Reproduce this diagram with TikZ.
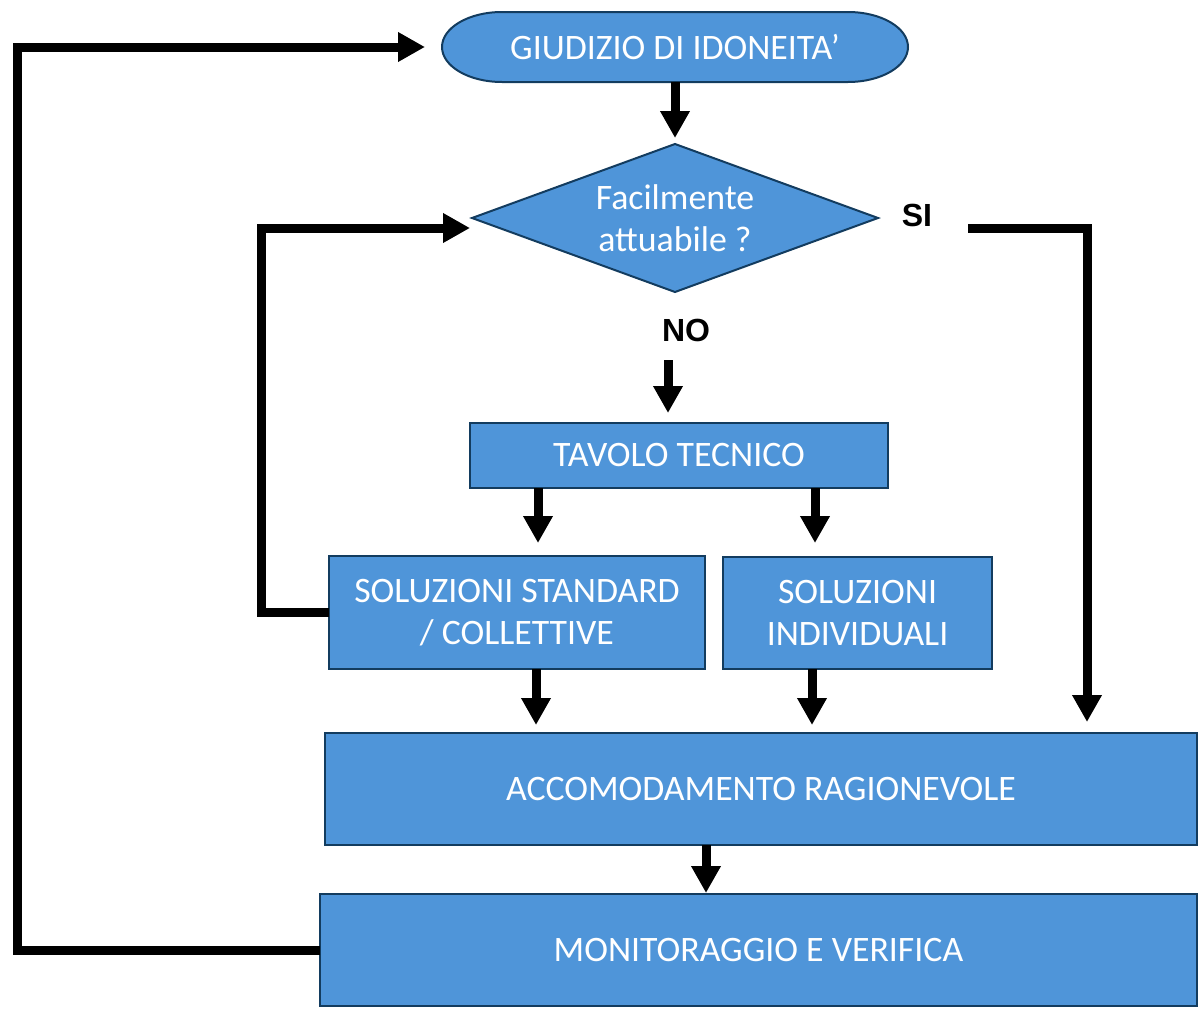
\documentclass[tikz,border=0pt]{standalone}
\usepackage{fontspec}
\setmainfont{Carlito}
\newfontfamily\labelfont{Liberation Sans}
\usetikzlibrary{arrows.meta,shapes.geometric,backgrounds}
\definecolor{boxc}{RGB}{79,149,217}
\definecolor{bordc}{RGB}{19,60,95}
\tikzset{
  box/.style={draw=bordc, fill=boxc, line width=1pt, inner sep=0pt, outer sep=0pt,
    text=white, align=center, font={\fontsize{17.9pt}{21pt}\selectfont}},
  termtext/.style={inner sep=0pt, outer sep=0pt, text=white, align=center,
    font={\fontsize{17.9pt}{21pt}\selectfont}},
  termshape/.style={draw=bordc, fill=boxc, line width=1pt},
  arr/.style={line width=4.5pt, line join=miter, -{Triangle[length=13.5pt,width=14pt]}},
  yn/.style={inner sep=0pt, font={\labelfont\bfseries\fontsize{16pt}{18pt}\selectfont}}
}
\begin{document}
\begin{tikzpicture}[x=0.5pt,y=-0.5pt]
\useasboundingbox (0,0) rectangle (1199,1012);

% nodes
\node[termtext, minimum width=233pt, minimum height=35pt] (g) at (675,47) {GIUDIZIO DI IDONEITA’};
\begin{scope}[on background layer]
\draw[termshape] ([xshift=30pt]g.north west) -- ([xshift=-30pt]g.north east)
  arc[start angle=90, end angle=-90, x radius=30pt, y radius=17.5pt]
  -- ([xshift=30pt]g.south west)
  arc[start angle=270, end angle=90, x radius=30pt, y radius=17.5pt] -- cycle;
\end{scope}

\node[box, diamond, shape aspect=2.74, minimum width=203pt, minimum height=74pt] (d) at (675,218) {Facilmente\\attuabile ?};
\node[yn] (si) at (917,215) {SI};
\node[yn] (no) at (686,330) {NO};

\node[box, minimum width=209pt, minimum height=32.5pt] (tav) at (679,455.5) {TAVOLO TECNICO};
\node[box, minimum width=188pt, minimum height=56.5pt] (sol1) at (517,612.5) {SOLUZIONI STANDARD\\/ COLLETTIVE};
\node[box, minimum width=134.5pt, minimum height=56pt] (sol2) at (857.5,613) {SOLUZIONI\\INDIVIDUALI};
\node[box, minimum width=436pt, minimum height=56pt] (acc) at (761,789) {ACCOMODAMENTO RAGIONEVOLE};
\node[box, minimum width=438.5pt, minimum height=56pt] (mon) at (758.5,950) {MONITORAGGIO E VERIFICA};

% helper coordinates
\coordinate (nostart) at (668,360);
\coordinate (sistart) at (968,228);
\coordinate (sicorner) at (1087,228);
\coordinate (loopL) at (261,228);
\coordinate (dleft) at (470,228);
\coordinate (loopB) at (17,47);

% connectors
\draw[arr, shorten >=3pt] (g.south) -- (d.north);
\draw[arr, shorten >=5pt] (nostart) -- (nostart |- tav.north);
\draw[arr, shorten >=6.5pt] ([xshift=-70.5pt]tav.south) -- ([xshift=-70.5pt]tav.south |- sol1.north);
\draw[arr, shorten >=7pt] ([xshift=68pt]tav.south) -- ([xshift=68pt]tav.south |- sol2.north);
\draw[arr, shorten >=4pt] ([xshift=9.5pt]sol1.south) -- ([xshift=9.5pt]sol1.south |- acc.north);
\draw[arr, shorten >=4pt] ([xshift=-22.75pt]sol2.south) -- ([xshift=-22.75pt]sol2.south |- acc.north);
\draw[arr, shorten >=0.5pt] ([xshift=-27.5pt]acc.south) -- ([xshift=-27.5pt]acc.south |- mon.north);
\draw[arr, shorten >=5.5pt] (sistart) -- (sicorner) -- (sicorner |- acc.north);
\draw[arr] (sol1.west) -| (loopL) -- (dleft);
\draw[arr, shorten >=8.5pt] (mon.west) -| (loopB) -- (g.west);
\end{tikzpicture}
\end{document}
